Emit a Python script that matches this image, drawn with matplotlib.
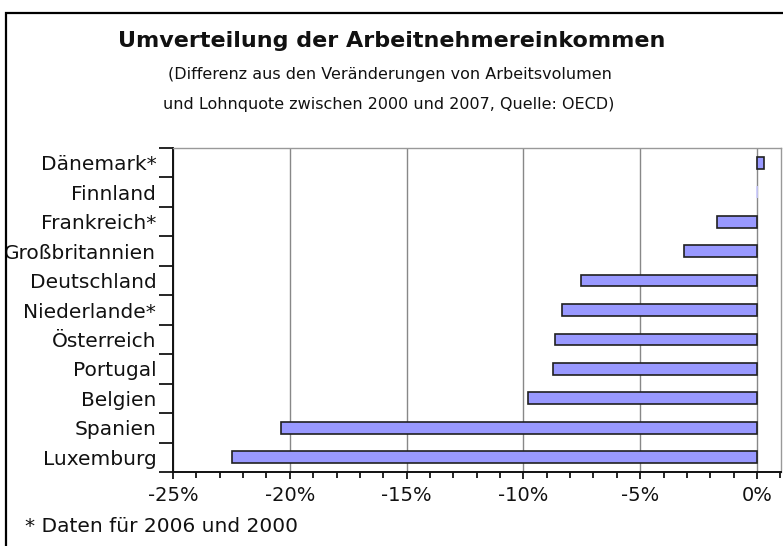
import matplotlib
matplotlib.use("Agg")
import matplotlib.pyplot as plt
from matplotlib.patches import Rectangle
from matplotlib.ticker import MultipleLocator, FuncFormatter
import numpy as np

countries = ["Dänemark*", "Finnland", "Frankreich*", "Großbritannien", "Deutschland",
             "Niederlande*", "Österreich", "Portugal", "Belgien", "Spanien", "Luxemburg"]
values = [0.3, 0.02, -1.73, -3.12, -7.55, -8.33, -8.63, -8.72, -9.79, -20.38, -22.49]

fill = "#9999ff"

fig = plt.figure(figsize=(7.83, 5.46), dpi=100)
fig.patches.append(Rectangle((6 / 783, -0.1), 1.2, 1.1 - 13 / 546, transform=fig.transFigure,
                             fill=False, edgecolor="black", linewidth=1.6))

ax = fig.add_axes([173 / 783, 74 / 546, 608 / 783, 324 / 546])

y = np.arange(len(countries)) + 0.5
# near-zero bars show only as a faint sliver in the original
edges = ["#ccccff" if abs(v) < 0.1 else "#202020" for v in values]
ax.barh(y, values, height=0.4, color=fill, edgecolor=edges, linewidth=1.2, zorder=3)

ax.set_xlim(-25, 1.03)
ax.set_ylim(len(countries), 0)

ax.xaxis.set_major_locator(MultipleLocator(5))
ax.xaxis.set_minor_locator(MultipleLocator(1))
ax.xaxis.set_major_formatter(FuncFormatter(lambda v, p: f"{v:.0f}%"))
ax.grid(axis="x", which="major", color="#888888", linewidth=1.0, zorder=0)

ax.set_yticks(np.arange(len(countries) + 1))
ax.set_yticklabels([])
ax.set_yticks(y, minor=True)
ax.set_yticklabels(countries, minor=True)

ax.tick_params(axis="y", which="major", length=10, width=1.2, direction="out")
ax.tick_params(axis="y", which="minor", length=0, pad=12, labelsize=14.5, labelcolor="#111111")
ax.tick_params(axis="x", which="both", direction="out", width=1.2, labelsize=14,
               labelcolor="#111111")
ax.tick_params(axis="x", which="major", length=5, pad=5)
ax.tick_params(axis="x", which="minor", length=4)

for s in ("left", "bottom"):
    ax.spines[s].set_linewidth(1.4)
    ax.spines[s].set_color("#111111")
for s in ("top", "right"):
    ax.spines[s].set_linewidth(1.0)
    ax.spines[s].set_color("#999999")

fig.text(392 / 783, 1 - 41 / 546, "Umverteilung der Arbeitnehmereinkommen",
         ha="center", va="center", fontsize=16, fontweight="bold", color="#111111")
fig.text(390 / 783, 1 - 75 / 546, "(Differenz aus den Veränderungen von Arbeitsvolumen",
         ha="center", va="center", fontsize=11.5, color="#111111")
fig.text(389 / 783, 1 - 105 / 546, "und Lohnquote zwischen 2000 und 2007, Quelle: OECD)",
         ha="center", va="center", fontsize=11.5, color="#111111")
fig.text(25 / 783, 1 - 526 / 546, "* Daten für 2006 und 2000",
         ha="left", va="center", fontsize=14.5, color="#111111")

fig.savefig("out.png", dpi=100, facecolor="white")
